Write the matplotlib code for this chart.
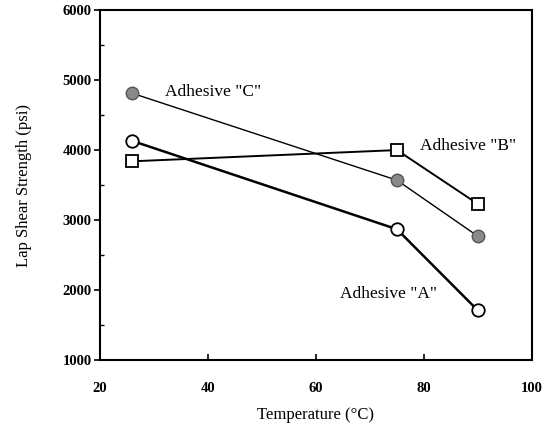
import matplotlib
matplotlib.use("Agg")
import matplotlib.pyplot as plt
from matplotlib.ticker import MultipleLocator

plt.rcParams['font.family'] = ['Liberation Serif', 'DejaVu Serif']

temp_a = [26, 75, 90]
strength_a = [4130, 2870, 1710]
temp_b = [26, 75, 90]
strength_b = [3840, 4000, 3230]
temp_c = [26, 75, 90]
strength_c = [4810, 3570, 2770]

fig = plt.figure(figsize=(5.5, 4.34), dpi=100)
ax = fig.add_axes([0.182, 0.17, 0.785, 0.807])

ax.plot(temp_a, strength_a, color='black', lw=1.8, marker='o', ms=9,
        mfc='white', mec='black', mew=1.3, zorder=3)
ax.plot(temp_b, strength_b, color='black', lw=1.4, marker='s', ms=9,
        mfc='white', mec='black', mew=1.3, zorder=3)
ax.plot(temp_c, strength_c, color='black', lw=1.0, marker='o', ms=9,
        mfc='#8a8a8a', mec='#555555', mew=1.0, zorder=3)

ax.text(32, 4830, 'Adhesive "C"', fontsize=12.5, va='center', ha='left')
ax.text(79.3, 4060, 'Adhesive "B"', fontsize=12.5, va='center', ha='left')
ax.text(64.4, 1940, 'Adhesive "A"', fontsize=12.5, va='center', ha='left')

ax.set_xlim(20, 100)
ax.set_ylim(1000, 6000)
ax.set_xticks([20, 40, 60, 80, 100])
ax.set_yticks([1000, 2000, 3000, 4000, 5000, 6000])
ax.yaxis.set_minor_locator(MultipleLocator(500))
ax.tick_params(axis='both', which='major', labelsize=10.5, length=4, width=1.2)
ax.tick_params(axis='y', which='major', pad=2)
ax.tick_params(axis='y', which='minor', direction='in', length=3, width=1)
ax.tick_params(axis='x', which='major', direction='in', pad=16)
for lbl in ax.get_xticklabels() + ax.get_yticklabels():
    lbl.set_fontweight('bold')
for s in ax.spines.values():
    s.set_linewidth(1.5)

ax.set_xlabel('Temperature (°C)', fontsize=12, labelpad=8)
ax.set_ylabel('Lap Shear Strength (psi)', fontsize=12, labelpad=22)

fig.savefig('out.png', dpi=100)
